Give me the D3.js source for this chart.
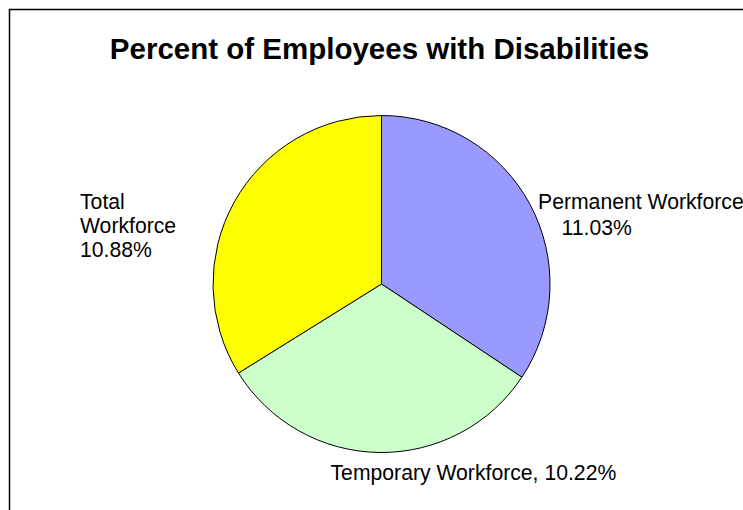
<!DOCTYPE html>
<html><head><meta charset="utf-8">
<script src="https://cdn.jsdelivr.net/npm/d3@7"></script>
<style>body{margin:0;background:#fff}svg{display:block}</style>
</head><body>
<script>
const categories = ["Permanent Workforce", "Temporary Workforce", "Total Workforce"];
const values = [11.03, 10.22, 10.88];
const colors = ["#9999FF", "#CCFFCC", "#FFFF00"];
const title = "Percent of Employees with Disabilities";

const W = 743, H = 510;
const svg = d3.select("body").append("svg").attr("width", W).attr("height", H);
svg.append("rect").attr("width", W).attr("height", H).attr("fill", "#fff");
// frame
svg.append("path").attr("d", `M9.5,${H} V9.5 H${W}`).attr("fill", "none").attr("stroke", "#000").attr("stroke-width", 1.5);

svg.append("text").attr("x", 379.5).attr("y", 59).attr("text-anchor", "middle")
  .attr("font-family", "Liberation Sans, Arial, sans-serif").attr("font-weight", "bold")
  .attr("font-size", 29.5).text(title);

const cx = 381.5, cy = 284, r = 168.5;
const data = categories.map((c, i) => ({c, v: values[i], col: colors[i]}));
const pie = d3.pie().value(d => d.v).sort(null);
const arc = d3.arc().innerRadius(0).outerRadius(r);
const g = svg.append("g").attr("transform", `translate(${cx},${cy})`);
const arcs = pie(data);
g.selectAll("path").data(arcs).join("path").attr("d", arc)
  .attr("fill", d => d.data.col).attr("stroke", "#000").attr("stroke-width", 1);

// labels
const lab = svg.append("g").attr("font-family", "Liberation Sans, Arial, sans-serif").attr("font-size", 21.2).attr("fill", "#000");
const fmt = v => v.toFixed(2) + "%";
// Permanent
let t = lab.append("text");
t.append("tspan").attr("x", 538).attr("y", 208.5).text(categories[0]);
t.append("tspan").attr("x", 561.5).attr("y", 235).text(fmt(values[0]));
// Temporary
lab.append("text").attr("x", 330.5).attr("y", 479.5).text(categories[1] + ", " + fmt(values[1]));
// Total
const words = categories[2].split(" ");
t = lab.append("text");
t.append("tspan").attr("x", 80).attr("y", 208.5).text(words[0]);
t.append("tspan").attr("x", 80).attr("y", 232.5).text(words[1]);
t.append("tspan").attr("x", 80).attr("y", 256.5).text(fmt(values[2]));
</script>
</body></html>
